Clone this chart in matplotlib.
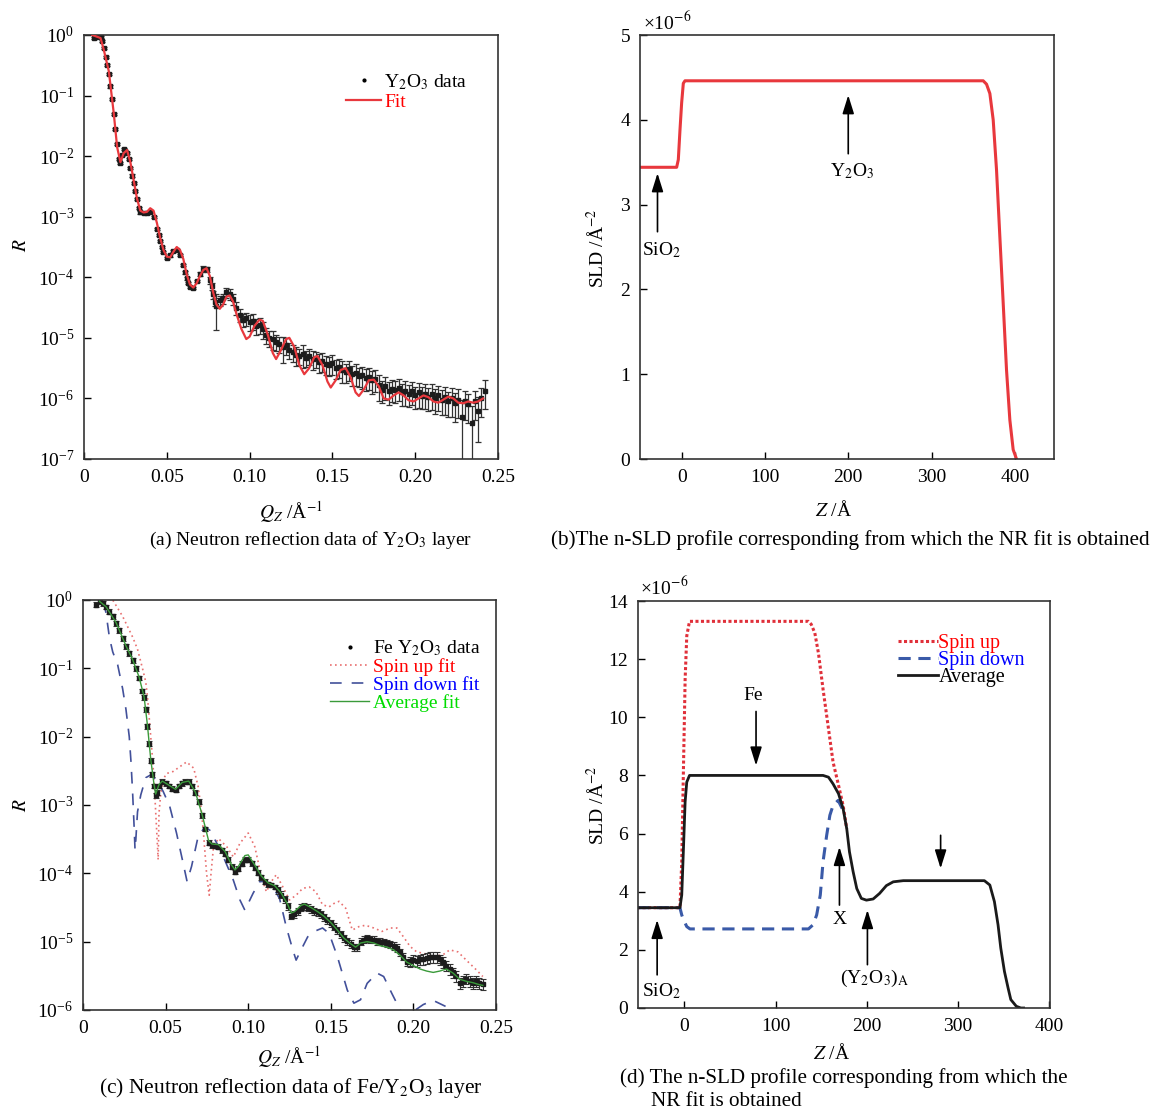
import numpy as np
import matplotlib
matplotlib.use("Agg")
import matplotlib.pyplot as plt
from matplotlib.lines import Line2D
from matplotlib.ticker import NullLocator

plt.rcParams['font.family'] = ['Liberation Serif', 'DejaVu Serif']
plt.rcParams['mathtext.fontset'] = 'stix'

# ---- (a) Y2O3 layer: Q (1/A), log10 R, relative error ----
qa_data = [0.006, 0.007, 0.008, 0.009, 0.010, 0.011, 0.012, 0.013, 0.014, 0.015,
           0.016, 0.017, 0.018, 0.019, 0.020, 0.021, 0.022, 0.023, 0.024, 0.025,
           0.026, 0.027, 0.028, 0.029, 0.030, 0.031, 0.032, 0.033, 0.034, 0.036,
           0.038, 0.040, 0.042, 0.044, 0.045, 0.046, 0.047, 0.048, 0.050, 0.052,
           0.054, 0.056, 0.058, 0.060, 0.061, 0.062, 0.063, 0.064, 0.066, 0.068,
           0.070, 0.072, 0.074, 0.076, 0.077, 0.078, 0.079, 0.080, 0.082, 0.084,
           0.086, 0.088, 0.090, 0.092, 0.094, 0.096, 0.098, 0.100, 0.102, 0.104,
           0.106, 0.108, 0.110, 0.112, 0.114, 0.116, 0.118, 0.120, 0.122, 0.124,
           0.126, 0.128, 0.130, 0.132, 0.134, 0.136, 0.138, 0.140, 0.142, 0.144,
           0.146, 0.148, 0.150, 0.152, 0.154, 0.156, 0.158, 0.160, 0.162, 0.164,
           0.166, 0.168, 0.170, 0.172, 0.174, 0.176, 0.178, 0.180, 0.182, 0.184,
           0.186, 0.188, 0.190, 0.192, 0.194, 0.196, 0.198, 0.200, 0.202, 0.204,
           0.206, 0.208, 0.210, 0.212, 0.214, 0.216, 0.218, 0.220, 0.222, 0.224,
           0.226, 0.228, 0.230, 0.232, 0.234, 0.236, 0.238, 0.240, 0.242]
loga_data = [-0.05, -0.03, -0.02, 0.0, -0.03, -0.10, -0.22, -0.36, -0.50, -0.65,
             -0.85, -1.05, -1.30, -1.55, -1.80, -2.05, -2.12, -1.98, -1.88, -1.92,
             -1.95, -2.05, -2.20, -2.32, -2.45, -2.58, -2.70, -2.85, -2.93, -2.94,
             -2.94, -2.92, -3.00, -3.20, -3.30, -3.40, -3.50, -3.58, -3.68, -3.64,
             -3.56, -3.55, -3.63, -3.80, -3.92, -4.02, -4.10, -4.16, -4.17, -4.06,
             -3.95, -3.86, -3.87, -4.05, -4.15, -4.28, -4.40, -4.48, -4.38, -4.35,
             -4.25, -4.27, -4.36, -4.50, -4.62, -4.70, -4.68, -4.74, -4.72, -4.80,
             -4.78, -4.86, -4.95, -5.00, -5.02, -5.07, -5.10, -5.15, -5.12, -5.20,
             -5.24, -5.28, -5.30, -5.27, -5.33, -5.30, -5.35, -5.34, -5.40, -5.38,
             -5.43, -5.45, -5.42, -5.50, -5.48, -5.53, -5.56, -5.52, -5.60, -5.58,
             -5.63, -5.62, -5.66, -5.64, -5.70, -5.68, -5.78, -5.86, -5.80, -5.88,
             -5.84, -5.86, -5.82, -5.90, -5.87, -5.92, -5.88, -5.95, -5.90, -5.96,
             -5.92, -5.98, -5.93, -6.00, -5.95, -6.02, -5.98, -6.05, -6.00, -6.08,
             -6.02, -6.30, -6.05, -6.10, -6.40, -6.05, -6.20, -6.00, -5.88]
erra_data = [0.04] * 50 + [0.08, 0.10, 0.10, 0.12, 0.12, 0.15, 0.15, 0.6, 0.2, 0.2,
             0.2, 0.2, 0.2, 0.25, 0.25, 0.25, 0.25, 0.3, 0.3, 0.3,
             0.3, 0.3, 0.3, 0.3, 0.35, 0.3, 0.3, 0.45, 0.3, 0.3,
             0.3, 0.35, 0.3, 0.4, 0.3, 0.3, 0.35, 0.3, 0.35, 0.35,
             0.35, 0.35, 0.35, 0.35, 0.35, 0.4, 0.35, 0.35, 0.35, 0.4,
             0.35, 0.4, 0.4, 0.4, 0.4, 0.4, 0.45, 0.4, 0.4, 0.4,
             0.4, 0.4, 0.4, 0.4, 0.45, 0.4, 0.4, 0.4, 0.45, 0.4,
             0.45, 0.4, 0.45, 0.45, 0.45, 0.45, 0.5, 0.45, 0.5, 0.5,
             0.5, 0.85, 0.5, 0.5, 0.85, 0.5, 0.7, 0.5, 0.5]
qa_fit = [0.005, 0.010, 0.012, 0.015, 0.018, 0.020, 0.022, 0.024, 0.026, 0.028,
          0.030, 0.032, 0.034, 0.036, 0.038, 0.040, 0.042, 0.044, 0.046, 0.048,
          0.050, 0.052, 0.054, 0.056, 0.058, 0.060, 0.062, 0.064, 0.066, 0.068,
          0.070, 0.072, 0.074, 0.076, 0.078, 0.080, 0.082, 0.084, 0.086, 0.088,
          0.090, 0.092, 0.095, 0.098, 0.100, 0.103, 0.106, 0.108, 0.111, 0.114,
          0.116, 0.119, 0.122, 0.124, 0.127, 0.130, 0.133, 0.136, 0.139, 0.141,
          0.144, 0.147, 0.149, 0.152, 0.155, 0.158, 0.161, 0.164, 0.166, 0.169,
          0.172, 0.175, 0.178, 0.181, 0.184, 0.187, 0.190, 0.193, 0.196, 0.199,
          0.202, 0.205, 0.208, 0.211, 0.214, 0.217, 0.220, 0.223, 0.226, 0.229,
          0.232, 0.235, 0.238, 0.241]
loga_fit = [0.0, -0.05, -0.25, -0.6, -1.3, -1.85, -2.1, -1.95, -1.9, -2.1,
            -2.4, -2.7, -2.9, -2.93, -2.92, -2.86, -2.9, -3.1, -3.35, -3.55,
            -3.66, -3.67, -3.58, -3.5, -3.55, -3.7, -3.95, -4.12, -4.17, -4.1,
            -3.98, -3.88, -3.85, -3.98, -4.25, -4.45, -4.52, -4.45, -4.32, -4.3,
            -4.4, -4.6, -4.85, -5.02, -4.98, -4.8, -4.7, -4.72, -4.95, -5.25,
            -5.35, -5.2, -5.02, -5.0, -5.15, -5.45, -5.6, -5.5, -5.32, -5.3,
            -5.45, -5.72, -5.82, -5.7, -5.53, -5.5, -5.65, -5.9, -5.96, -5.85,
            -5.7, -5.69, -5.8, -6.0, -6.02, -5.95, -5.9, -5.95, -6.03, -6.05,
            -6.0, -5.95, -5.98, -6.05, -6.07, -6.02, -5.97, -6.0, -6.07, -6.08,
            -6.05, -6.07, -6.05, -6.0]

# ---- (b) SLD profile of Y2O3 (x1e-6 A^-2) ----
zb = [-50, -6, -4, -2, 0, 2, 4, 8, 362, 366, 370, 374, 378, 382, 386, 390, 394, 398, 402]
sldb = [3.44, 3.44, 3.53, 3.88, 4.2, 4.43, 4.46, 4.46, 4.46, 4.42, 4.31, 4.0, 3.41,
        2.62, 1.84, 1.05, 0.46, 0.11, 0.0]

# ---- (c) Fe/Y2O3 layer ----
qc_data = [0.008, 0.010, 0.012, 0.014, 0.016, 0.018, 0.020, 0.022, 0.024, 0.026,
           0.028, 0.030, 0.032, 0.034, 0.036, 0.037, 0.038, 0.039, 0.040, 0.041,
           0.042, 0.043, 0.044, 0.045, 0.046, 0.048, 0.050, 0.052, 0.054, 0.056,
           0.058, 0.060, 0.062, 0.064, 0.066, 0.068, 0.070, 0.072, 0.074, 0.076,
           0.078, 0.080, 0.082, 0.084, 0.086, 0.088, 0.090, 0.092, 0.094, 0.096,
           0.098, 0.100, 0.102, 0.104, 0.106, 0.108, 0.110, 0.112, 0.114, 0.116,
           0.118, 0.120, 0.122, 0.124, 0.126, 0.128, 0.130, 0.132, 0.134, 0.136,
           0.138, 0.140, 0.142, 0.144, 0.146, 0.148, 0.150, 0.152, 0.154, 0.156,
           0.158, 0.160, 0.162, 0.164, 0.166, 0.168, 0.170, 0.172, 0.174, 0.176,
           0.178, 0.180, 0.182, 0.184, 0.186, 0.188, 0.190, 0.192, 0.194, 0.196,
           0.198, 0.200, 0.202, 0.204, 0.206, 0.208, 0.210, 0.212, 0.214, 0.216,
           0.218, 0.220, 0.222, 0.224, 0.226, 0.228, 0.230, 0.232, 0.234, 0.236,
           0.238, 0.240, 0.242]
logc_data = [-0.07, -0.02, -0.05, -0.10, -0.17, -0.24, -0.34, -0.44, -0.56, -0.68,
             -0.78, -0.88, -1.00, -1.14, -1.33, -1.42, -1.60, -1.85, -2.10, -2.35,
             -2.55, -2.72, -2.86, -2.82, -2.72, -2.66, -2.68, -2.72, -2.76, -2.78,
             -2.72, -2.68, -2.66, -2.66, -2.72, -2.82, -2.95, -3.15, -3.35, -3.55,
             -3.59, -3.60, -3.61, -3.66, -3.71, -3.80, -3.90, -3.98, -3.93, -3.86,
             -3.80, -3.80, -3.85, -3.92, -3.99, -4.06, -4.12, -4.16, -4.17, -4.20,
             -4.25, -4.31, -4.38, -4.48, -4.62, -4.60, -4.55, -4.50, -4.48, -4.50,
             -4.52, -4.55, -4.57, -4.60, -4.64, -4.69, -4.73, -4.78, -4.83, -4.89,
             -4.95, -4.99, -5.03, -5.08, -5.08, -5.00, -4.97, -4.95, -4.96, -4.97,
             -4.99, -5.00, -5.01, -5.02, -5.04, -5.06, -5.09, -5.15, -5.22, -5.30,
             -5.29, -5.27, -5.28, -5.26, -5.25, -5.24, -5.23, -5.22, -5.23, -5.26,
             -5.30, -5.35, -5.40, -5.45, -5.50, -5.60, -5.58, -5.54, -5.57, -5.60,
             -5.58, -5.61, -5.62]
errc_data = [0.08] * 60 + [0.12] * 40 + [0.18] * 23
qc_up = [0.016, 0.018, 0.021, 0.024, 0.027, 0.030, 0.033, 0.036, 0.038, 0.039,
         0.040, 0.041, 0.042, 0.043, 0.044, 0.0455, 0.046, 0.047, 0.0485, 0.0505,
         0.0545, 0.0586, 0.0627, 0.067, 0.0697, 0.0715, 0.0728, 0.0748, 0.0764, 0.0775,
         0.079, 0.082, 0.087, 0.091, 0.095, 0.100, 0.104, 0.108, 0.111, 0.114,
         0.117, 0.121, 0.125, 0.129, 0.133, 0.137, 0.141, 0.145, 0.149, 0.152,
         0.155, 0.159, 0.163, 0.167, 0.171, 0.176, 0.181, 0.186, 0.190, 0.194,
         0.198, 0.202, 0.206, 0.212, 0.218, 0.222, 0.227, 0.232, 0.238, 0.242]
logc_up = [0.05, 0.0, -0.12, -0.24, -0.39, -0.54, -0.72, -1.0, -1.2, -1.41,
           -1.7, -2.0, -2.3, -2.63, -3.1, -3.8, -3.12, -2.85, -2.63, -2.54,
           -2.51, -2.44, -2.37, -2.46, -2.73, -3.05, -3.37, -4.0, -4.32, -4.0,
           -3.61, -3.49, -3.61, -3.76, -3.56, -3.41, -3.61, -4.05, -4.27, -4.12,
           -4.02, -4.2, -4.39, -4.32, -4.22, -4.2, -4.27, -4.46, -4.49, -4.44,
           -4.41, -4.51, -4.83, -4.78, -4.76, -4.8, -4.85, -4.8, -4.8, -4.93,
           -5.07, -5.15, -5.17, -5.22, -5.19, -5.12, -5.15, -5.27, -5.41, -5.51]
qc_down = [0.0125, 0.014, 0.016, 0.018, 0.021, 0.024, 0.026, 0.028, 0.029, 0.030,
           0.031, 0.0315, 0.032, 0.033, 0.035, 0.038, 0.041, 0.0445, 0.0485, 0.0525,
           0.0566, 0.0606, 0.063, 0.0657, 0.0697, 0.0738, 0.0768, 0.081, 0.085, 0.091,
           0.095, 0.098, 0.103, 0.107, 0.111, 0.115, 0.119, 0.123, 0.127, 0.129,
           0.132, 0.136, 0.140, 0.145, 0.149, 0.154, 0.160, 0.164, 0.168, 0.172,
           0.178, 0.182, 0.187, 0.192, 0.195, 0.200, 0.206, 0.212, 0.218, 0.224, 0.228]
logc_down = [-0.02, -0.2, -0.55, -0.76, -0.95, -1.3, -1.6, -2.0, -2.35, -2.8,
             -3.35, -3.66, -3.5, -3.1, -2.85, -2.6, -2.56, -2.63, -2.8, -3.02,
             -3.41, -3.85, -4.12, -3.9, -3.46, -3.32, -3.37, -3.56, -3.76, -4.1,
             -4.39, -4.54, -4.29, -4.12, -4.12, -4.2, -4.37, -4.78, -5.12, -5.27,
             -5.12, -4.93, -4.85, -4.8, -4.88, -5.22, -5.71, -5.9, -5.85, -5.61,
             -5.46, -5.51, -5.76, -6.0, -6.1, -6.02, -5.92, -5.86, -5.93, -6.0, -6.1]
qc_avg = [0.010, 0.014, 0.020, 0.026, 0.030, 0.034, 0.037, 0.039, 0.041, 0.043,
          0.044, 0.046, 0.048, 0.052, 0.056, 0.060, 0.064, 0.068, 0.072, 0.076,
          0.078, 0.082, 0.086, 0.090, 0.092, 0.094, 0.098, 0.100, 0.104, 0.108,
          0.112, 0.116, 0.120, 0.124, 0.126, 0.128, 0.132, 0.134, 0.138, 0.142,
          0.146, 0.150, 0.154, 0.158, 0.162, 0.165, 0.168, 0.172, 0.176, 0.180,
          0.184, 0.188, 0.192, 0.196, 0.200, 0.204, 0.208, 0.212, 0.216, 0.220,
          0.224, 0.228, 0.232, 0.236, 0.240, 0.242]
logc_avg = [-0.02, -0.10, -0.33, -0.67, -0.87, -1.13, -1.42, -1.83, -2.33, -2.70,
            -2.84, -2.70, -2.65, -2.71, -2.77, -2.67, -2.65, -2.81, -3.13, -3.52,
            -3.57, -3.58, -3.68, -3.88, -3.95, -3.90, -3.74, -3.73, -3.88, -4.04,
            -4.14, -4.18, -4.29, -4.46, -4.58, -4.56, -4.47, -4.45, -4.50, -4.56,
            -4.63, -4.72, -4.83, -4.95, -5.03, -5.08, -5.02, -5.00, -5.02, -5.06,
            -5.08, -5.12, -5.20, -5.30, -5.35, -5.40, -5.43, -5.45, -5.43, -5.40,
            -5.46, -5.55, -5.58, -5.60, -5.63, -5.64]

# ---- (d) SLD profiles of Fe/Y2O3 (x1e-6 A^-2) ----
zd_up = [-52, -5, -3, -1, 0.7, 2.5, 5.5, 10, 136, 139, 143, 147, 152, 158, 163, 169, 174, 178]
sld_up = [3.45, 3.45, 5.03, 8.46, 11.3, 12.8, 13.3, 13.3, 13.3, 13.2, 12.9, 12.2,
          10.97, 9.6, 8.46, 7.66, 6.97, 6.17]
zd_down = [-52, -5, -3, -1, 2.5, 6, 10, 136, 141, 145, 149, 152, 156, 159.5, 163, 168.6, 173]
sld_down = [3.45, 3.45, 3.2, 3.03, 2.8, 2.72, 2.72, 2.72, 2.86, 3.2, 3.89, 5.03,
            5.94, 6.63, 6.97, 7.14, 6.86]
zd_avg = [-52, -5, -3, -1, 0.7, 2.5, 5.5, 10, 150, 152, 158, 163, 169, 174, 178,
          181, 185, 189, 194, 199.6, 207, 214, 221.5, 229, 240, 329, 335, 340, 344,
          347, 351, 355, 358, 364, 369, 372]
sld_avg = [3.45, 3.45, 3.89, 5.6, 7.09, 7.77, 8.0, 8.0, 8.0, 8.0, 7.94, 7.71, 7.37,
           6.86, 6.17, 5.37, 4.69, 4.11, 3.77, 3.71, 3.75, 3.94, 4.21, 4.34, 4.38,
           4.38, 4.23, 3.66, 2.86, 2.06, 1.26, 0.69, 0.29, 0.06, 0.0, 0.0]

W, H = 1153, 1109
fig = plt.figure(figsize=(W / 100, H / 100), dpi=100)


def px_axes(left, top, right, bottom):
    return fig.add_axes([left / W, 1 - bottom / H, (right - left) / W, (bottom - top) / H])


def style(ax):
    ax.tick_params(direction='in', length=5, width=1, labelsize=14, pad=7,
                   top=False, right=False)
    for s in ax.spines.values():
        s.set_linewidth(1.2)
        s.set_color('#333333')


def ftext(x, y, s, **kw):
    kw.setdefault('fontsize', 14)
    fig.text(x / W, 1 - y / H, s, **kw)


def arrow(ax, x0, y0, x1, y1):
    ax.annotate('', xy=(x1, y1), xytext=(x0, y0),
                arrowprops=dict(arrowstyle='-|>,head_length=0.8,head_width=0.25',
                                color='k', lw=1.2, mutation_scale=14, shrinkA=0, shrinkB=0))


def pow10(v):
    return 10.0 ** np.asarray(v)


# (a)
ax = px_axes(84, 35, 498, 459)
style(ax)
Ra = pow10(loga_data)
ea = Ra * np.asarray(erra_data)
ax.errorbar(qa_data, Ra, yerr=ea, fmt='s', ms=3.2, color='#1c1c1c', ecolor='#333333',
            elinewidth=0.9, capsize=2.2, capthick=0.9, zorder=2)
ax.plot(qa_fit, pow10(loga_fit), color='#e8383d', lw=1.6, zorder=3)
ax.set_yscale('log')
ax.set_xlim(0, 0.25)
ax.set_ylim(1e-7, 1e0)
ax.set_yticks([1e0, 1e-1, 1e-2, 1e-3, 1e-4, 1e-5, 1e-6, 1e-7])
ax.yaxis.set_minor_locator(NullLocator())
ax.set_xticks([0, 0.05, 0.10, 0.15, 0.20, 0.25])
ax.set_xticklabels(['0', '0.05', '0.10', '0.15', '0.20', '0.25'])
h = [Line2D([], [], marker='.', ls='none', color='k', ms=4),
     Line2D([], [], color='#e8383d', lw=1.6)]
ax.legend(h, ['Y$_2$O$_3$ data', 'Fit'], loc='upper left', bbox_to_anchor=(0.61, 0.935),
          frameon=False, fontsize=14, handlelength=1.8, handletextpad=0.15,
          labelspacing=0.05, labelcolor=['k', '#ff0000'], borderpad=0)

# (b)
ax = px_axes(640, 35, 1054, 459)
style(ax)
ax.plot(zb, sldb, color='#e8383d', lw=2.2, solid_capstyle='round')
ax.set_xlim(-50, 447)
ax.set_ylim(0, 5)
ax.set_xticks([0, 100, 200, 300, 400])
ax.set_yticks([0, 1, 2, 3, 4, 5])
arrow(ax, -29, 2.68, -29, 3.37)
ax.text(-47, 2.46, 'SiO$_2$', fontsize=14, ha='left', va='center')
arrow(ax, 200, 3.6, 200, 4.29)
ax.text(205, 3.39, 'Y$_2$O$_3$', fontsize=14, ha='center', va='center')

# (c)
ax = px_axes(83, 600, 496, 1010)
style(ax)
Rc = pow10(logc_data)
ax.plot(qc_up, pow10(logc_up), color='#e87070', lw=1.2, ls=(0, (1, 2)), zorder=1)
ax.plot(qc_down, pow10(logc_down), color='#42509a', lw=1.2, ls=(0, (7, 6)), zorder=1)
ax.errorbar(qc_data, Rc, yerr=Rc * np.asarray(errc_data), fmt='s', ms=3.0,
            color='#1c1c1c', ecolor='#333333', elinewidth=0.8, capsize=2, capthick=0.8,
            zorder=2)
ax.plot(qc_avg, pow10(logc_avg), color='#3a9a3a', lw=1.0, zorder=3)
ax.set_yscale('log')
ax.set_xlim(0, 0.25)
ax.set_ylim(1e-6, 1e0)
ax.set_yticks([1e0, 1e-1, 1e-2, 1e-3, 1e-4, 1e-5, 1e-6])
ax.yaxis.set_minor_locator(NullLocator())
ax.set_xticks([0, 0.05, 0.10, 0.15, 0.20, 0.25])
ax.set_xticklabels(['0', '0.05', '0.10', '0.15', '0.20', '0.25'])
h = [Line2D([], [], marker='.', ls='none', color='k', ms=4),
     Line2D([], [], color='#e87070', lw=1.2, ls=(0, (1, 2))),
     Line2D([], [], color='#42509a', lw=1.2, ls=(0, (7, 6))),
     Line2D([], [], color='#3a9a3a', lw=1.0)]
ax.legend(h, ['Fe Y$_2$O$_3$ data', 'Spin up fit', 'Spin down fit', 'Average fit'],
          loc='upper left', bbox_to_anchor=(0.575, 0.93), frameon=False, fontsize=14,
          handlelength=2.0, handletextpad=0.2, labelspacing=0.0, borderpad=0,
          labelcolor=['k', '#ff0000', '#0000ff', '#00dd00'])

# (d)
ax = px_axes(638, 601, 1050, 1008)
style(ax)
ax.plot(zd_up, sld_up, color='#e0303a', lw=2.2, ls=(0, (1, 0.8)), zorder=1)
ax.plot(zd_down, sld_down, color='#3a5aa8', lw=2.2, ls=(0, (4, 2.5)), zorder=1)
ax.plot(zd_avg, sld_avg, color='#1a1a1a', lw=2.0, zorder=2)
ax.set_xlim(-51, 401)
ax.set_ylim(0, 14)
ax.set_xticks([0, 100, 200, 300, 400])
ax.set_yticks([0, 2, 4, 6, 8, 10, 12, 14])
h = [Line2D([], [], color='#e0303a', lw=2.2, ls=(0, (1, 0.8))),
     Line2D([], [], color='#3a5aa8', lw=2.2, ls=(0, (4, 2.5))),
     Line2D([], [], color='#1a1a1a', lw=2.0)]
ax.legend(h, ['Spin up', 'Spin down', 'Average'], loc='upper left',
          bbox_to_anchor=(0.607, 0.945), frameon=False, fontsize=14.5, handlelength=2.0,
          handletextpad=0.0, labelspacing=-0.1, borderpad=0,
          labelcolor=['#ff0000', '#0000ff', 'k'])
ax.text(75, 10.75, 'Fe', fontsize=14, ha='center', va='center')
arrow(ax, 78.5, 10.2, 78.5, 8.34)
arrow(ax, -30, 1.14, -30, 3.03)
ax.text(-47, 0.57, 'SiO$_2$', fontsize=14, ha='left', va='center')
arrow(ax, 170, 3.54, 170, 5.54)
ax.text(170, 3.03, 'X', fontsize=14, ha='center', va='center')
arrow(ax, 200.7, 1.49, 200.7, 3.37)
ax.text(209, 1.03, '(Y$_2$O$_3$)$_\\mathrm{A}$', fontsize=14, ha='center', va='center')
arrow(ax, 281, 5.94, 281, 4.8)

# axis labels and captions
ftext(291, 512, '$Q_Z$ /Å$^{-1}$', ha='center', va='center')
ftext(834, 510, '$Z$ /Å', ha='center', va='center')
ftext(289, 1057, '$Q_Z$ /Å$^{-1}$', ha='center', va='center')
ftext(832, 1053, '$Z$ /Å', ha='center', va='center')
ftext(22, 245, '$R$', ha='center', va='center', rotation=90)
ftext(22, 805, '$R$', ha='center', va='center', rotation=90)
ftext(597, 248, 'SLD /Å$^{-2}$', ha='center', va='center', rotation=90)
ftext(597, 805, 'SLD /Å$^{-2}$', ha='center', va='center', rotation=90)
ftext(643, 22, '×10$^{-6}$', ha='left', va='center')
ftext(640, 587, '×10$^{-6}$', ha='left', va='center')

ftext(311, 540, '(a) Neutron reflection data of Y$_2$O$_3$ layer', ha='center', va='center')
ftext(850, 540, '(b)The n-SLD profile corresponding from which the NR fit is obtained',
      ha='center', va='center', fontsize=15.2)
ftext(291, 1088, '(c) Neutron reflection data of Fe/Y$_2$O$_3$ layer', ha='center',
      va='center', fontsize=15.5)
ftext(620, 1078, '(d) The n-SLD profile corresponding from which the', ha='left',
      va='center', fontsize=15.2)
ftext(651, 1101, 'NR fit is obtained', ha='left', va='center', fontsize=15.2)

fig.savefig('out.png', dpi=100)
